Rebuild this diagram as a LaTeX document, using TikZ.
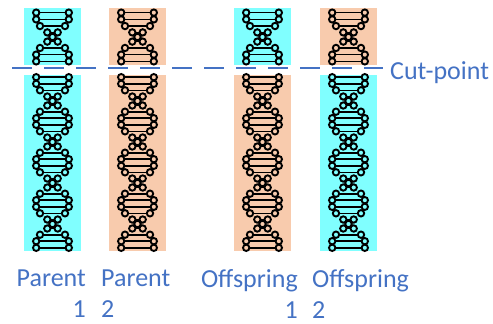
\documentclass[tikz,border=0pt]{standalone}
\usepackage{fontspec}
\setmainfont{Carlito}
\definecolor{helixcyan}{HTML}{80FFFF}
\definecolor{helixpeach}{HTML}{F8CBAD}
\definecolor{labelblue}{HTML}{4472C4}
\tikzset{
    rung/.style={line width=1.6pt},
    bead/.style={draw=black, line width=1.9pt},
    cutline/.style={labelblue, line width=2.6pt, dash pattern=on 20pt off 12pt},
    tag/.style={labelblue, inner sep=0pt, font=\fontsize{26}{31}\selectfont},
}
% one half turn of the helix: height / distance of the bead from the axis
\newcommand{\halfturn}{-3.3/16.3, 3.3/16.3, 9.8/12.5, 16/5.2, 20.5/0, 25/5.2, 31.2/12.5}
% #1 axis x, #2 y of first wide part, #3 half turns, #4 height of a half turn, #5 bead fill
\newcommand{\ladder}[5]{%
    \pgfmathsetmacro{\sc}{#4/41}
    \pgfmathtruncatemacro{\nlast}{#3-1}
    \foreach \k in {0,...,\nlast}{
        \foreach \u/\v in \halfturn{
            \draw[rung] ({#1-\v},{#2+\k*#4+\u*\sc}) -- ({#1+\v},{#2+\k*#4+\u*\sc});
        }
    }
    \foreach \u in {-3.3,3.3}{
        \draw[rung] ({#1-16.3},{#2+#3*#4+\u*\sc}) -- ({#1+16.3},{#2+#3*#4+\u*\sc});
    }
    \foreach \k in {0,...,\nlast}{
        \foreach \u/\v in \halfturn{
            \filldraw[bead, fill=#5] ({#1-\v},{#2+\k*#4+\u*\sc}) circle (3.2);
            \filldraw[bead, fill=#5] ({#1+\v},{#2+\k*#4+\u*\sc}) circle (3.2);
        }
    }
    \foreach \u in {-3.3,3.3}{
        \filldraw[bead, fill=#5] ({#1-16.3},{#2+#3*#4+\u*\sc}) circle (3.2);
        \filldraw[bead, fill=#5] ({#1+16.3},{#2+#3*#4+\u*\sc}) circle (3.2);
    }
}
\begin{document}
\begin{tikzpicture}[x=1pt, y=-1pt]
            \useasboundingbox (0,0) rectangle (493,324);
            % chromosomes: centre / colour above the cut / colour below the cut
            \foreach \cx/\ctop/\cbot in {52.5/helixcyan/helixcyan, 137.5/helixpeach/helixpeach, 262.5/helixcyan/helixpeach, 348.5/helixpeach/helixcyan}{
                \fill[\ctop] (\cx-28.5,8) rectangle (\cx+28.5,65);
                \fill[\cbot] (\cx-28.5,75) rectangle (\cx+28.5,251);
                \ladder{\cx}{16}{1}{42}{\ctop}
                \ladder{\cx}{80.5}{4}{41}{\cbot}
            }
            \coordinate (cutstart) at (12,68);
            \coordinate (cutend) at (383,68);
            \draw[cutline] (cutstart) -- (cutend);
            \node[tag, anchor=base west] (cut) at (390,79) {Cut-point};
            \node[tag, align=right, anchor=north east] (parentA) at (86,269.5) {Parent\\1};
            \node[tag, align=left, anchor=north west] (parentB) at (101,269.5) {Parent\\2};
            \node[tag, align=right, anchor=north east] (childA) at (298,269.5) {Offspring\\1};
            \node[tag, align=left, anchor=north west] (childB) at (312,269.5) {Offspring\\2};
\end{tikzpicture}
\end{document}
